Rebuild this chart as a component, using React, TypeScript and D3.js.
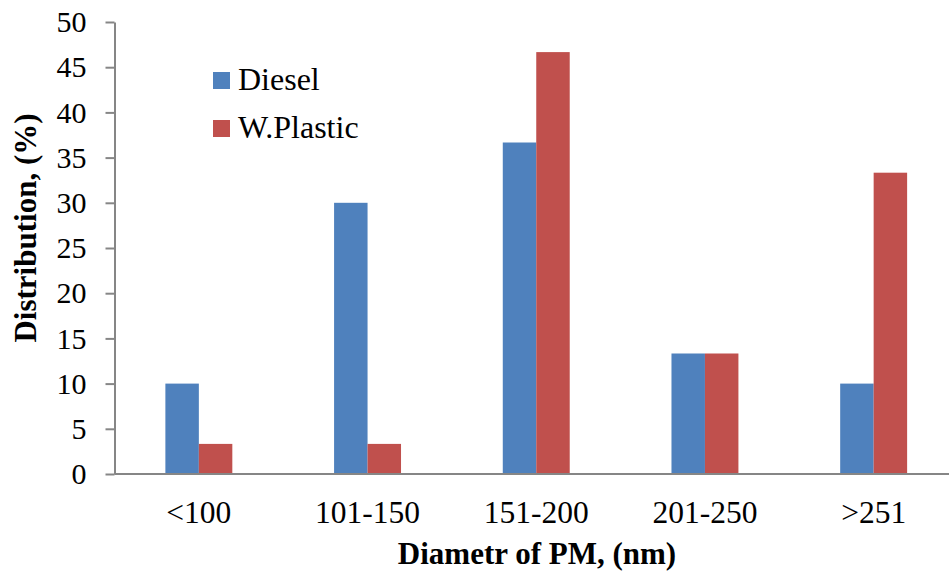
import { useEffect, useMemo, useRef } from 'react';
import * as d3 from 'd3';

const categories = ['<100', '101-150', '151-200', '201-250', '>251'];
const seriesNames = ['Diesel', 'W.Plastic'];
const dieselValues = [10, 30, 36.67, 13.33, 10];
const plasticValues = [3.33, 3.33, 46.67, 13.33, 33.33];
const yTicks = [0, 5, 10, 15, 20, 25, 30, 35, 40, 45, 50];
const colours = ['#4F81BD', '#C0504D'];

const WIDTH = 949;
const HEIGHT = 573;
const margin = { top: 22, right: -9, bottom: 99, left: 114.5 };
const FONT = '"Liberation Serif", "Times New Roman", serif';

export default function App() {
    const yAxisEl = useRef<SVGGElement>(null);

    const xScale = useMemo(
        () =>
            d3
                .scaleBand<string>()
                .domain(categories)
                .range([margin.left, WIDTH - margin.right])
                .padding(0),
        []
    );
    // two bars per group, ~300% gap like the Excel original
    const x1 = useMemo(
        () =>
            d3
                .scaleBand<string>()
                .domain(seriesNames)
                .range([0, xScale.bandwidth()])
                .paddingInner(0)
                .paddingOuter(1.52),
        [xScale]
    );
    const yScale = useMemo(
        () => d3.scaleLinear().domain([0, 50]).range([HEIGHT - margin.bottom, margin.top]),
        []
    );

    const bars = useMemo(() => {
        const all = [dieselValues, plasticValues];
        return categories.flatMap((c, i) =>
            seriesNames.map((s, j) => {
                const v = all[j][i];
                return {
                    key: `${c}-${s}`,
                    x: (xScale(c) || 0) + (x1(s) || 0),
                    y: yScale(v),
                    width: x1.bandwidth(),
                    height: yScale(0) - yScale(v),
                    fill: colours[j],
                };
            })
        );
    }, [xScale, x1, yScale]);

    useEffect(() => {
        if (!yAxisEl.current) return;
        const axis = d3.axisLeft(yScale).tickValues(yTicks).tickSize(9).tickPadding(19).tickSizeOuter(0);
        const g = d3.select(yAxisEl.current).call(axis);
        g.select('.domain').attr('stroke', '#868686').attr('stroke-width', 2);
        g.selectAll('.tick line').attr('stroke', '#868686').attr('stroke-width', 2);
        g.selectAll('.tick text')
            .attr('fill', '#000')
            .style('font-family', FONT)
            .style('font-size', '30px');
    }, [yScale]);

    return (
        <svg
            width={WIDTH}
            height={HEIGHT}
            viewBox={`0 0 ${WIDTH} ${HEIGHT}`}
            style={{ position: 'absolute', left: 0, top: 0, background: '#fff' }}
        >
            {bars.map((b) => (
                <rect key={b.key} x={b.x} y={b.y} width={b.width} height={b.height} fill={b.fill} />
            ))}
            <line
                x1={margin.left}
                x2={WIDTH - margin.right}
                y1={yScale(0)}
                y2={yScale(0)}
                stroke="#868686"
                strokeWidth={2}
            />
            <g ref={yAxisEl} transform={`translate(${margin.left}, 0)`} />
            {categories.map((c) => (
                <text
                    key={c}
                    x={(xScale(c) || 0) + xScale.bandwidth() / 2}
                    y={523}
                    textAnchor="middle"
                    fontFamily={FONT}
                    fontSize={31.5}
                >
                    {c}
                </text>
            ))}
            <text x={537} y={564} textAnchor="middle" fontFamily={FONT} fontSize={31} fontWeight="bold">
                Diametr of PM, (nm)
            </text>
            <text
                transform={`translate(36, 228) rotate(-90)`}
                textAnchor="middle"
                fontFamily={FONT}
                fontSize={31}
                fontWeight="bold"
            >
                Distribution, (%)
            </text>
            {seriesNames.map((s, i) => (
                <g key={s} transform={`translate(213, ${72 + i * 48})`}>
                    <rect width={17} height={17} fill={colours[i]} />
                    <text x={25} y={18} fontFamily={FONT} fontSize={32}>
                        {s}
                    </text>
                </g>
            ))}
        </svg>
    );
}
